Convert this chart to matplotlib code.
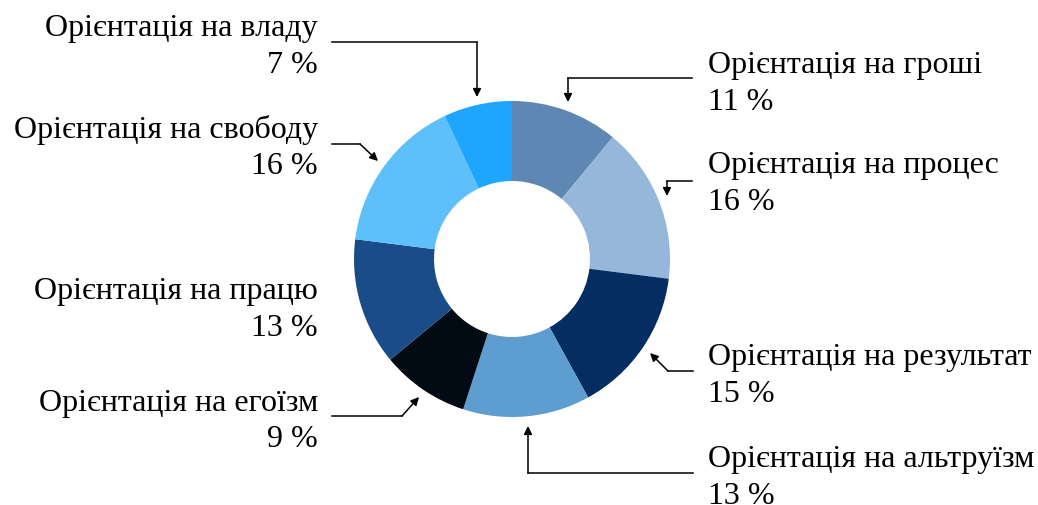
import matplotlib.pyplot as plt

labels = ["Орієнтація на гроші", "Орієнтація на процес", "Орієнтація на результат",
          "Орієнтація на альтруїзм", "Орієнтація на егоїзм", "Орієнтація на працю",
          "Орієнтація на свободу", "Орієнтація на владу"]
values = [11, 16, 15, 13, 9, 13, 16, 7]
colors = ["#5F87B3", "#95B7D9", "#042D62", "#5E9DD0", "#020A14", "#1A4C8A", "#5DC0FA", "#1EA5FD"]

W, H = 1038, 506
plt.rcParams['font.family'] = ['Liberation Serif', 'DejaVu Serif']

fig = plt.figure(figsize=(W / 100, H / 100), dpi=100)
ax = fig.add_axes([0, 0, 1, 1])
ax.set_xlim(0, W)
ax.set_ylim(0, H)
ax.set_aspect('equal')
ax.axis('off')

# pixel-style coordinates, y measured from the top
def P(x, y):
    return (x, H - y)

cx, cy = P(512, 260)
ax.pie(values, colors=colors, startangle=90, counterclock=False,
       center=(cx, cy), radius=158, wedgeprops=dict(width=80, linewidth=0))
ax.set_xlim(0, W)
ax.set_ylim(0, H)

# label text positions (anchor x, first line y) and alignment
label_pos = [(708, 65, 'left'), (708, 166, 'left'), (708, 357, 'left'), (708, 460, 'left'),
             (318, 403, 'right'), (318, 292, 'right'), (318, 130, 'right'), (318, 28, 'right')]

for (x, y, ha), lab, v in zip(label_pos, labels, values):
    ax.text(*P(x, y), lab, ha=ha, va='center', fontsize=23)
    ax.text(*P(x, y + 37), f"{v} %", ha=ha, va='center', fontsize=23)

# leader lines: polyline points, last point is the arrow tip
leaders = [
    [(692, 79), (568, 79), (568, 103)],
    [(692, 182), (667, 182), (667, 197)],
    [(693, 372), (668, 372), (650, 354)],
    [(693, 474), (528, 474), (528, 427)],
    [(332, 417), (402, 417), (419, 398)],
    [(332, 145), (360, 145), (378, 162)],
    [(332, 43), (477, 43), (477, 98)],
]
for pts in leaders:
    xy = [P(*p) for p in pts]
    ax.plot([p[0] for p in xy[:-1]], [p[1] for p in xy[:-1]], color='black', lw=1.1)
    ax.annotate('', xy=xy[-1], xytext=xy[-2],
                arrowprops=dict(arrowstyle='-|>', color='black', lw=1.1,
                                mutation_scale=12, shrinkA=0, shrinkB=0))

fig.savefig('out.png', dpi=100, facecolor='white')
